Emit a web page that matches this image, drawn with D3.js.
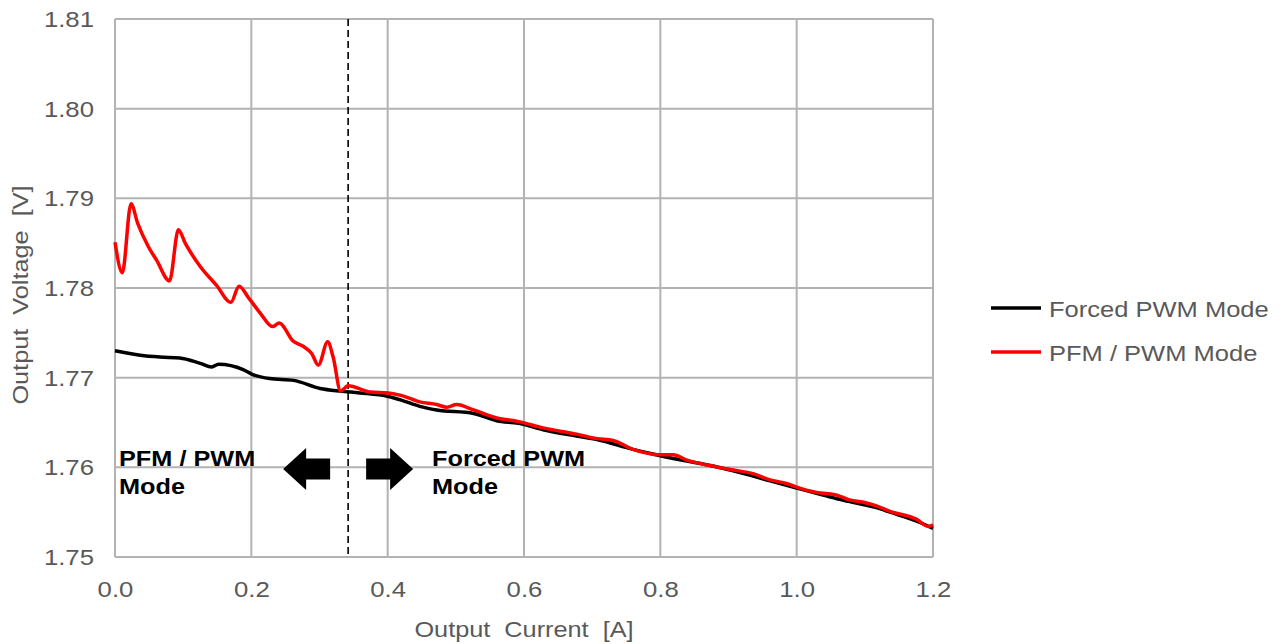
<!DOCTYPE html>
<html>
<head>
<meta charset="utf-8">
<script src="https://cdn.jsdelivr.net/npm/d3@7"></script>
<style>
  body { margin: 0; background: #fff; }
  text { font-family: "Liberation Sans", Arial, sans-serif; }
</style>
</head>
<body>
<svg id="chart" width="1283" height="644"></svg>
<script>
// Output current [A] and output voltage [V] for each operating mode
const forcedCurrent = [0.000, 0.037, 0.066, 0.095, 0.125, 0.142, 0.152, 0.188, 0.2005, 0.227, 0.262, 0.301, 0.330, 0.359,
  0.401, 0.420, 0.447, 0.472, 0.526, 0.560, 0.592, 0.628, 0.677, 0.707, 0.760, 0.800, 0.839, 0.873, 0.907, 0.961,
  1.000, 1.029, 1.059, 1.076, 1.117, 1.137, 1.176, 1.200];
const forcedVoltage = [1.7730, 1.7725, 1.7723, 1.7722, 1.7716, 1.7712, 1.7715, 1.7709, 1.7704, 1.7699, 1.7697, 1.7688, 1.7685, 1.7683,
  1.7679, 1.7675, 1.7668, 1.7664, 1.7660, 1.7652, 1.7649, 1.7642, 1.7635, 1.7631, 1.7620, 1.7613, 1.7607, 1.7602, 1.7596, 1.7585,
  1.7577, 1.7571, 1.7565, 1.7562, 1.7555, 1.7550, 1.7540, 1.7532];

const pfmCurrent = [0.000, 0.0107, 0.0235, 0.0333, 0.049, 0.061, 0.080, 0.093, 0.103, 0.125, 0.149, 0.170, 0.182, 0.196,
  0.213, 0.231, 0.241, 0.261, 0.276, 0.2885, 0.2983, 0.312, 0.320, 0.331, 0.342, 0.374, 0.401, 0.421, 0.447, 0.472,
  0.487, 0.501, 0.526, 0.560, 0.592, 0.628, 0.677, 0.707, 0.731, 0.760, 0.800, 0.819, 0.839, 0.873, 0.907, 0.936, 0.961,
  0.985, 1.000, 1.029, 1.059, 1.076, 1.098, 1.117, 1.137, 1.176, 1.193, 1.200];
const pfmVoltage = [1.7851, 1.7817, 1.7894, 1.7872, 1.7846, 1.7831, 1.7808, 1.7865, 1.7850, 1.7824, 1.7803, 1.7784, 1.7802, 1.7789,
  1.7772, 1.7757, 1.7761, 1.7741, 1.7735, 1.7727, 1.7714, 1.7740, 1.7723, 1.7685, 1.7691, 1.7684, 1.7683, 1.7680, 1.7673, 1.7670,
  1.7667, 1.7670, 1.7664, 1.7655, 1.7651, 1.7644, 1.7637, 1.7632, 1.7630, 1.7620, 1.7614, 1.7614, 1.7608, 1.7602, 1.7597, 1.7593, 1.7586,
  1.7582, 1.7578, 1.7572, 1.7569, 1.7564, 1.7561, 1.7557, 1.7551, 1.7542, 1.7534, 1.7536];

const xTicks = [0.0, 0.2, 0.4, 0.6, 0.8, 1.0, 1.2];
const yTicks = [1.75, 1.76, 1.77, 1.78, 1.79, 1.80, 1.81];
const modeBoundary = 0.342;

const seriesNames = ["Forced PWM Mode", "PFM / PWM Mode"];
const seriesColors = ["#000000", "#ff0000"];

const svg = d3.select("#chart");
const margin = { left: 115, right: 350, top: 19, bottom: 87 };
const W = 1283, H = 644;

const x = d3.scaleLinear().domain([0, 1.2]).range([margin.left, W - margin.right]);
const y = d3.scaleLinear().domain([1.75, 1.81]).range([H - margin.bottom, margin.top]);

const gridColor = "#b3b3b3";
const labelColor = "#595959";
const wide = 1.15;     // horizontal stretch of the caption lettering
const tickWide = 1.12; // same for the tick numbers

// gridlines
svg.append("g").selectAll("line").data(xTicks).join("line")
  .attr("x1", d => x(d)).attr("x2", d => x(d))
  .attr("y1", y(1.81)).attr("y2", y(1.75))
  .attr("stroke", gridColor).attr("stroke-width", 2);
svg.append("g").selectAll("line").data(yTicks).join("line")
  .attr("x1", x(0)).attr("x2", x(1.2))
  .attr("y1", d => y(d)).attr("y2", d => y(d))
  .attr("stroke", gridColor).attr("stroke-width", 2);

// axes (labels only; the grid carries the lines)
const xAxis = svg.append("g").attr("transform", `translate(0,${y(1.75)})`)
  .call(d3.axisBottom(x).tickValues(xTicks).tickFormat(d3.format(".1f")).tickSize(0).tickPadding(24));
const yAxis = svg.append("g").attr("transform", `translate(${x(0)},0)`)
  .call(d3.axisLeft(y).tickValues(yTicks).tickFormat(d3.format(".2f")).tickSize(0).tickPadding(21));
[xAxis, yAxis].forEach(g => {
  g.select(".domain").remove();
  g.selectAll("text").attr("font-size", 23).attr("fill", labelColor)
    .attr("font-family", "Liberation Sans, Arial, sans-serif")
    .attr("transform", `scale(${tickWide},1)`);
});
yAxis.selectAll("text").attr("x", -21 / tickWide);

// axis titles
svg.append("text")
  .attr("transform", `translate(${(x(0) + x(1.2)) / 2},637) scale(${wide},1)`)
  .attr("text-anchor", "middle").attr("font-size", 22).attr("fill", labelColor)
  .attr("xml:space", "preserve")
  .text("Output  Current  [A]");
svg.append("text")
  .attr("transform", `translate(28,${(y(1.75) + y(1.81)) / 2 + 7}) rotate(-90) scale(${wide},1)`)
  .attr("text-anchor", "middle").attr("font-size", 22).attr("fill", labelColor)
  .attr("xml:space", "preserve")
  .text("Output  Voltage  [V]");

// mode boundary
svg.append("line")
  .attr("x1", x(modeBoundary)).attr("x2", x(modeBoundary))
  .attr("y1", y(1.81)).attr("y2", y(1.75))
  .attr("stroke", "#000").attr("stroke-width", 1.6).attr("stroke-dasharray", "7,4");

// curves
const line = d3.line().x(d => x(d[0])).y(d => y(d[1])).curve(d3.curveMonotoneX);
const forced = forcedCurrent.map((c, i) => [c, forcedVoltage[i]]);
const pfm = pfmCurrent.map((c, i) => [c, pfmVoltage[i]]);

svg.append("path").datum(forced).attr("d", line)
  .attr("fill", "none").attr("stroke", seriesColors[0]).attr("stroke-width", 3.5)
  .attr("stroke-linejoin", "round");
svg.append("path").datum(pfm).attr("d", line)
  .attr("fill", "none").attr("stroke", seriesColors[1]).attr("stroke-width", 3.5)
  .attr("stroke-linejoin", "round");

// mode annotations
const annot = svg.append("g").attr("font-size", 22).attr("font-weight", "bold").attr("fill", "#000");
const annotLines = [
  [x(0) + 4, 466, "PFM / PWM"], [x(0) + 4, 494, "Mode"],
  [432, 466, "Forced PWM"], [432, 494, "Mode"]
];
annotLines.forEach(([tx, ty, t]) => {
  annot.append("text").attr("transform", `translate(${tx},${ty}) scale(${wide},1)`).text(t);
});

// arrows pointing away from the boundary
const bx = x(modeBoundary), ay = 469;
const arrowShape = (dir) => {
  // dir = -1 points left, +1 points right
  const s0 = 18, s1 = 42, tip = 65, hw = 10.5, hh = 21;
  const p = [[s0, -hw], [s1, -hw], [s1, -hh], [tip, 0], [s1, hh], [s1, hw], [s0, hw]];
  return p.map(([a, b]) => [bx + dir * a, ay + b]);
};
[-1, 1].forEach(dir => {
  svg.append("polygon")
    .attr("points", arrowShape(dir).map(p => p.join(",")).join(" "))
    .attr("fill", "#000");
});

// legend
const legend = svg.append("g");
const legendY = [308, 352];
seriesNames.forEach((name, i) => {
  legend.append("line")
    .attr("x1", 991).attr("x2", 1041).attr("y1", legendY[i]).attr("y2", legendY[i])
    .attr("stroke", seriesColors[i]).attr("stroke-width", 3.5);
  legend.append("text")
    .attr("transform", `translate(1049,${legendY[i] + 9}) scale(1.16,1)`)
    .attr("font-size", 22).attr("fill", labelColor)
    .text(name);
});
</script>
</body>
</html>
